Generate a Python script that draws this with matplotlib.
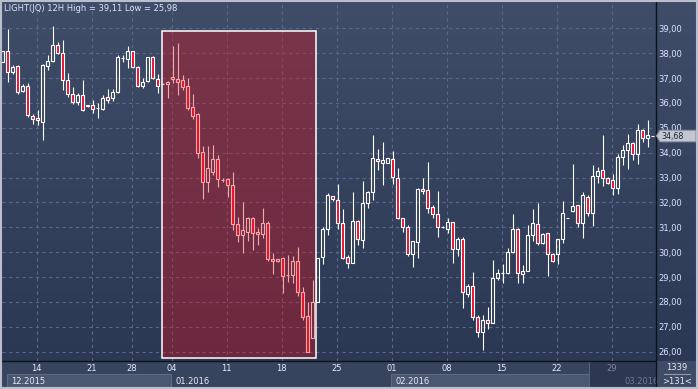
import numpy as np
import matplotlib
matplotlib.use("Agg")
import matplotlib.pyplot as plt
import matplotlib.transforms as mtransforms
from matplotlib.patches import Rectangle, Polygon

# 12H candles
opens = [37.66, 38.09, 37.23, 37.49, 36.48, 36.68, 35.48, 35.38, 35.25, 37.49,
         37.69, 38.33, 37.99, 36.92, 36.35, 36.05, 36.32, 35.90, 35.92, 35.78,
         35.76, 36.24, 36.19, 36.43, 37.82, 37.75, 38.09, 37.46, 36.70, 36.88,
         37.86, 36.95, 36.78, 36.76, 37.03, 36.95, 36.92, 36.68, 35.82, 35.54,
         34.02, 32.84, 33.24, 33.73, 32.90, 32.93, 32.70, 31.12, 30.68, 30.83,
         31.36, 30.81, 30.72, 31.16, 29.71, 29.63, 29.75, 29.09, 29.09, 29.65,
         28.39, 27.44, 26.54, 28.01, 29.80, 30.92, 32.25, 32.08, 31.16, 29.80,
         29.58, 31.26, 30.49, 31.96, 32.42, 33.75, 33.60, 33.60, 33.73, 32.97,
         31.39, 31.03, 29.91, 30.42, 32.53, 32.49, 31.80, 31.52, 31.03, 30.95,
         31.20, 30.12, 30.53, 28.31, 28.64, 27.38, 26.81, 27.28, 27.17, 28.95,
         29.18, 29.18, 30.02, 30.92, 29.12, 29.26, 30.69, 31.12, 30.36, 30.76,
         29.93, 29.93, 30.52, 31.37, 31.67, 31.88, 31.16, 32.23, 31.56, 33.06,
         33.31, 32.97, 32.90, 32.57, 33.84, 34.11, 34.40, 33.95, 34.91, 34.58,
         34.68]
highs = [38.09, 38.97, 37.52, 37.52, 36.75, 36.82, 35.54, 35.72, 37.55, 37.93,
         39.11, 38.46, 38.53, 37.19, 36.65, 36.39, 36.92, 35.93, 36.12, 35.98,
         36.32, 36.56, 36.56, 37.93, 37.93, 38.30, 38.09, 37.50, 37.02, 37.86,
         37.90, 37.15, 36.80, 36.88, 38.29, 38.42, 37.12, 36.99, 36.36, 35.58,
         34.27, 34.27, 34.31, 33.91, 32.97, 32.97, 33.24, 31.43, 32.03, 31.43,
         31.43, 30.96, 31.76, 31.27, 29.96, 29.74, 29.79, 29.89, 29.85, 30.20,
         28.59, 28.01, 28.88, 29.75, 31.03, 32.37, 32.25, 32.74, 31.74, 29.89,
         32.43, 31.30, 32.86, 32.46, 34.71, 34.14, 34.42, 33.77, 34.08, 33.37,
         31.39, 31.09, 30.45, 32.57, 32.97, 33.61, 31.90, 32.46, 31.07, 31.39,
         31.20, 30.60, 30.60, 28.72, 29.20, 27.48, 27.48, 27.78, 29.69, 29.31,
         29.53, 30.18, 31.52, 30.96, 29.49, 31.09, 31.72, 31.97, 30.76, 30.76,
         29.95, 30.52, 32.06, 31.37, 33.55, 31.88, 32.41, 32.30, 33.50, 33.44,
         34.71, 33.04, 33.14, 33.93, 34.31, 34.75, 34.44, 35.15, 34.94, 35.31,
         34.68]
lows = [37.66, 36.86, 37.15, 36.37, 36.43, 35.44, 35.17, 35.11, 34.51, 37.32,
        37.66, 37.95, 36.52, 36.25, 35.94, 35.92, 35.68, 35.85, 35.58, 35.38,
        35.72, 35.98, 36.08, 36.39, 37.66, 37.39, 37.42, 36.64, 36.61, 36.86,
        36.95, 36.41, 36.76, 36.21, 36.82, 36.32, 36.52, 35.72, 35.36, 33.77,
        32.13, 32.43, 33.10, 32.64, 32.84, 32.23, 30.89, 30.42, 29.96, 30.46,
        30.09, 30.29, 30.59, 29.66, 29.12, 29.61, 28.37, 28.79, 28.75, 28.24,
        27.28, 25.98, 26.54, 28.01, 29.53, 30.69, 32.07, 30.92, 29.71, 29.35,
        29.55, 30.29, 30.16, 31.76, 32.10, 33.30, 32.70, 33.60, 32.74, 31.34,
        30.83, 29.85, 29.42, 29.75, 32.34, 31.56, 31.36, 30.62, 30.99, 30.79,
        29.58, 29.85, 27.77, 28.19, 27.28, 26.58, 26.07, 26.90, 27.14, 28.88,
        28.78, 29.12, 29.95, 28.75, 28.75, 29.26, 30.46, 30.29, 30.33, 29.06,
        29.62, 29.51, 30.36, 31.37, 31.63, 31.03, 30.56, 31.46, 31.05, 32.77,
        32.66, 32.74, 32.30, 32.33, 33.50, 33.33, 33.71, 33.55, 34.44, 34.22,
        34.68]
closes = [38.09, 37.23, 37.46, 36.43, 36.68, 35.52, 35.34, 35.30, 37.52, 37.69,
          38.33, 37.99, 36.92, 36.35, 36.03, 36.32, 35.72, 35.89, 35.74, 35.78,
          36.21, 36.13, 36.43, 37.86, 37.82, 38.09, 37.46, 36.70, 36.86, 37.83,
          36.99, 36.70, 36.78, 36.84, 36.95, 36.86, 36.65, 35.81, 35.49, 33.97,
          32.84, 33.37, 33.73, 32.93, 32.90, 32.70, 31.12, 30.68, 30.89, 31.36,
          30.79, 30.72, 31.16, 29.71, 29.63, 29.71, 29.06, 29.09, 29.65, 28.39,
          27.38, 26.00, 27.99, 29.75, 30.92, 32.30, 32.15, 31.16, 29.78, 29.55,
          31.26, 30.52, 31.96, 32.42, 33.77, 33.68, 33.69, 33.77, 33.01, 31.39,
          31.00, 29.91, 30.45, 32.53, 32.45, 31.76, 31.52, 31.03, 31.03, 31.20,
          30.12, 30.53, 28.39, 28.64, 27.41, 26.81, 27.28, 27.14, 28.95, 29.15,
          29.18, 29.99, 30.92, 29.15, 29.25, 30.69, 31.16, 30.36, 30.72, 29.93,
          29.66, 30.52, 31.56, 31.37, 31.86, 31.19, 32.30, 31.56, 33.06, 33.27,
          32.97, 32.77, 32.57, 33.81, 34.11, 34.40, 33.95, 34.91, 34.58, 34.71,
          34.68]

day_labels = ['14', '21', '28', '04', '11', '18', '25', '01', '08', '15', '22', '29']
day_pos = [7, 18, 26, 34, 45, 56, 67, 78, 89, 100, 111, 122]
price_ticks = list(range(26, 40))
months = ['12.2015', '01.2016', '02.2016', '03.2016']
month_start = [0.86, 33.66, 77.66, 117.26]
month_end = [33.66, 77.66, 117.26, 130.6]
hl_from, hl_to = 31.9, 62.7
hl_low, hl_high = 25.75, 38.88
last_price = 34.68
title = 'LIGHT(JQ) 12H High = 39,11 Low = 25,98'

W, H = 698, 389
plt.rcParams['font.family'] = 'DejaVu Sans'
fig = plt.figure(figsize=(W / 100, H / 100), dpi=100)

# background in pixel coords
bg = fig.add_axes([0, 0, 1, 1], zorder=0)
bg.set_xlim(0, W)
bg.set_ylim(H, 0)
bg.axis('off')
grad = np.linspace(0, 1, 256)[:, None]
top = np.array([63, 77, 104]) / 255
bot = np.array([42, 56, 84]) / 255
img = top[None, None, :] * (1 - grad[:, :, None]) + bot[None, None, :] * grad[:, :, None]
bg.imshow(img, extent=[0, W, 361, 0], aspect='auto', interpolation='bilinear')
bg.add_patch(Rectangle((0, 361), W, H - 361, facecolor='#37445e', edgecolor='none'))
bg.add_patch(Rectangle((656, 361), W - 656, H - 361, facecolor='#3e4b66', edgecolor='none'))

# main chart axes
ax = fig.add_axes([2 / W, (H - 360.7) / H, 653.7 / W, 358.7 / H], zorder=1)
ax.set_facecolor('none')
ax.set_xlim(-0.14, 130.6)
ax.set_ylim(25.64, 40.057)
for s in ax.spines.values():
    s.set_visible(False)

x = np.arange(len(opens))
o = np.array(opens)
c = np.array(closes)
hi = np.array(highs)
lo = np.array(lows)
btop = np.maximum(o, c)
bbot = np.minimum(o, c)
down = c < o

ax.vlines(x, btop, hi, color='white', lw=0.8, zorder=3)
ax.vlines(x, lo, bbot, color='white', lw=0.8, zorder=3)
ax.bar(x, btop - bbot, bottom=bbot, width=0.66,
       color=np.where(down, '#e8102c', 'none'), edgecolor='white', linewidth=0.8, zorder=4)

# highlighted period
ax.add_patch(Rectangle((hl_from, hl_low), hl_to - hl_from, hl_high - hl_low,
                       facecolor=(227 / 255, 14 / 255, 24 / 255), alpha=0.36, edgecolor='none', zorder=5))
ax.add_patch(Rectangle((hl_from, hl_low), hl_to - hl_from, hl_high - hl_low,
                       facecolor='none', edgecolor='white', lw=1.1, zorder=6))

ax.grid(True, color='#5a6888', linestyle=(0, (3, 3)), linewidth=0.8, zorder=1)
ax.set_axisbelow(True)
ax.yaxis.tick_right()
ax.set_yticks(price_ticks)
ax.set_yticklabels([f'{p:.2f}'.replace('.', ',') for p in price_ticks])
ax.set_xticks([p - 0.2 for p in day_pos])
ax.set_xticklabels(day_labels)
ax.tick_params(axis='y', length=0, pad=1.7, labelsize=6, labelcolor='#dbe6fb')
ax.tick_params(axis='x', length=0, pad=2.2, labelsize=6, labelcolor='#e6ecf8')
ax.get_xticklabels()[-1].set_color('#7d889f')

# month row, placed on the chart's x scale
mtr = mtransforms.blended_transform_factory(ax.transData, bg.transData)
for k, m in enumerate(months):
    if k == 3:
        bg.add_patch(Rectangle((month_start[k], 361), month_end[k] - month_start[k], 28,
                               transform=mtr, facecolor='#2c3852', edgecolor='#56617a', lw=0.8, zorder=2))
        bg.text(124.3, 381, m, transform=mtr, fontsize=6, color='#6f7a92', va='center', zorder=3)
        continue
    if k % 2 == 0:
        bg.add_patch(Rectangle((month_start[k], 373.5), month_end[k] - month_start[k], 15,
                               transform=mtr, facecolor='#4b5872', edgecolor='#5e6a84', lw=0.8, zorder=2))
    bg.text(month_start[k] + 0.8, 381, m, transform=mtr, fontsize=6, color='#e6ecf8', va='center', zorder=3)

# panel separators
bg.plot([655.7, 655.7], [0, H], color='#0d111a', lw=1.0, zorder=4)
bg.plot([0, 655.7], [360.7, 360.7], color='#0d111a', lw=1.0, zorder=4)

# bottom-right corner box
bg.text(677, 367, '1339', fontsize=6, color='#e6ecf8', ha='center', va='center', zorder=3)
bg.plot([664, 690], [374, 374], color='#8e98ad', lw=0.8, zorder=3)
bg.text(677, 381, '>131<', fontsize=6, color='#e6ecf8', ha='center', va='center', zorder=3)

# overlay: title, last price tag, frame
ov = fig.add_axes([0, 0, 1, 1], zorder=2)
ov.set_xlim(0, W)
ov.set_ylim(H, 0)
ov.axis('off')
ov.text(4, 8, title, fontsize=6, color='#dbe6fb', va='center', ha='left')

yp = ax.transData.transform((0, last_price))[1]
yp = ov.transData.inverted().transform((0, yp))[1]
tag = Polygon([[656.5, yp], [660, yp - 5.5], [696, yp - 5.5], [696, yp + 6], [660, yp + 6]],
              closed=True, facecolor='#c3c7cf', edgecolor='#8a93a5', lw=0.8)
ov.add_patch(tag)
ov.text(661, yp + 1.0, f'{last_price:.2f}'.replace('.', ','), fontsize=5.8, color='#1b2438',
        va='center', ha='left')
ov.add_patch(Rectangle((0.75, 0.75), W - 1.5, H - 1.5, facecolor='none', edgecolor='#b9c0cc', lw=1.5))

fig.savefig('out.png', dpi=100)
